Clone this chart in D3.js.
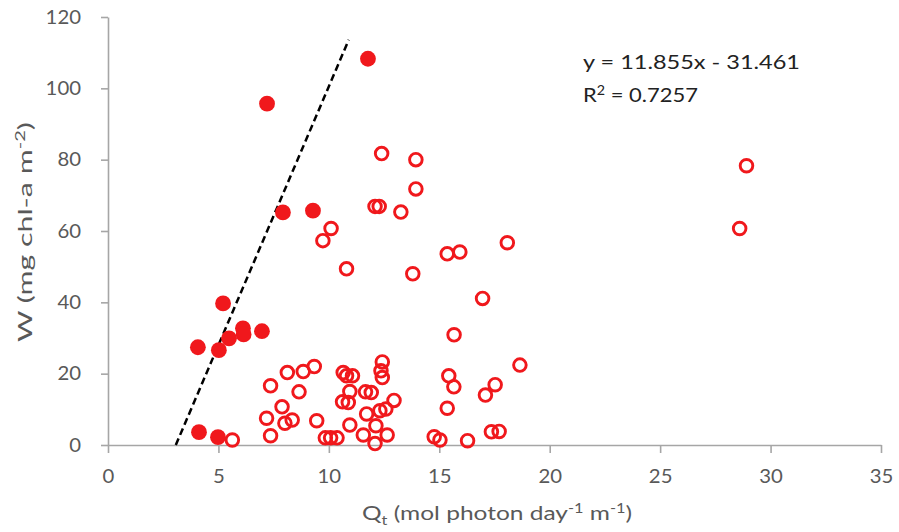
<!DOCTYPE html>
<html>
<head>
<meta charset="utf-8">
<script src="https://cdn.jsdelivr.net/npm/d3@7"></script>
<style>
  body { margin: 0; background: #fff; }
  text { font-family: Lato, "Open Sans", sans-serif; }
</style>
</head>
<body>
<svg id="chart"></svg>
<script>
// filled points (Qt, W)
const filledQt = [11.77, 7.2, 7.92, 9.28, 5.21, 4.07, 5.02, 5.48, 6.11, 6.14, 6.97, 4.12, 4.98];
const filledW  = [108.3, 95.7, 65.2, 65.7, 39.7, 27.4, 26.6, 29.9, 32.7, 31.0, 31.9, 3.6, 2.2];

// open points (Qt, W)
const openQt = [9.73, 10.1, 10.8, 13.8, 15.36, 15.93, 18.08, 16.96, 15.67, 18.65,
                15.43, 15.66, 17.53, 17.09, 15.36, 14.77, 15.03, 16.28, 17.36, 17.71,
                7.36, 8.12, 8.84, 9.34, 8.65, 7.88, 7.18, 8.01, 8.34, 7.36,
                5.63, 9.45, 9.84, 10.08, 10.37, 10.65, 10.8, 11.07, 10.95, 10.62,
                10.88, 10.95, 11.66, 11.92, 11.71, 11.56, 12.13, 12.09, 12.42, 12.36,
                12.42, 12.31, 12.58, 12.95, 12.64, 12.39, 13.94, 13.94, 12.09, 12.28,
                13.26, 28.91, 28.6];
const openW  = [57.3, 60.7, 49.4, 48.0, 53.6, 54.1, 56.7, 41.1, 30.9, 22.4,
                19.4, 16.3, 16.9, 14.0, 10.3, 2.3, 1.4, 1.2, 3.7, 3.8,
                16.6, 20.3, 20.6, 22.0, 14.9, 10.7, 7.5, 6.1, 7.0, 2.6,
                1.4, 6.8, 2.0, 2.0, 2.0, 20.3, 19.4, 19.4, 15.0, 12.1,
                11.9, 5.6, 14.9, 14.7, 8.7, 2.8, 5.4, 0.4, 23.3, 20.8,
                18.9, 9.6, 10.1, 12.5, 2.8, 81.7, 80.0, 71.8, 66.9, 66.9,
                65.3, 78.3, 60.7];

// dashed boundary line
const lineQt = [3.07, 10.9];
const lineW  = [0, 113.6];

const xTicks = [0, 5, 10, 15, 20, 25, 30, 35];
const yTicks = [0, 20, 40, 60, 80, 100, 120];
const eqText = "y = 11.855x - 31.461";

const width = 899, height = 532;
const margin = {top: 17, left: 108, bottom: 87, right: 18};
const red = "#f0181c";
const grey = "#595959";

const svg = d3.select("#chart").attr("width", width).attr("height", height);

const x = d3.scaleLinear().domain([0, 35]).range([margin.left, width - margin.right]);
const y = d3.scaleLinear().domain([0, 120]).range([height - margin.bottom, margin.top]);

// the source picture is a bit wider than tall, stretch the glyphs to match
const stretch = (sel, w) => sel.attr("textLength", w).attr("lengthAdjust", "spacingAndGlyphs");

const xAxis = g => g
    .attr("transform", `translate(0,${y(0)})`)
    .call(d3.axisBottom(x).tickValues(xTicks).tickSize(8).tickSizeOuter(0).tickPadding(17))
    .call(g => g.selectAll("path, line").attr("stroke", "#a6a6a6").attr("stroke-width", 1.6))
    .call(g => g.selectAll("text").attr("fill", grey).attr("font-size", 19)
        .attr("textLength", d => String(d).length * 11.8).attr("lengthAdjust", "spacingAndGlyphs"));

const yAxis = g => g
    .attr("transform", `translate(${x(0)},0)`)
    .call(d3.axisLeft(y).tickValues(yTicks).tickSize(7).tickSizeOuter(0).tickPadding(20))
    .call(g => g.selectAll("path, line").attr("stroke", "#a6a6a6").attr("stroke-width", 1.6))
    .call(g => g.selectAll("text").attr("fill", grey).attr("font-size", 19)
        .attr("textLength", d => String(d).length * 11.8).attr("lengthAdjust", "spacingAndGlyphs"));

svg.append("g").call(xAxis);
svg.append("g").call(yAxis);

// dashed line
svg.append("path")
    .datum(d3.zip(lineQt, lineW))
    .attr("d", d3.line().x(d => x(d[0])).y(d => y(d[1])))
    .attr("stroke", "#000")
    .attr("stroke-width", 2.5)
    .attr("stroke-dasharray", "7,4")
    .attr("fill", "none");

// open circles
svg.append("g")
    .selectAll("circle")
    .data(d3.zip(openQt, openW))
    .join("circle")
    .attr("cx", d => x(d[0]))
    .attr("cy", d => y(d[1]))
    .attr("r", 6.3)
    .attr("fill", "none")
    .attr("stroke", red)
    .attr("stroke-width", 2.9);

// filled circles
svg.append("g")
    .selectAll("circle")
    .data(d3.zip(filledQt, filledW))
    .join("circle")
    .attr("cx", d => x(d[0]))
    .attr("cy", d => y(d[1]))
    .attr("r", 7.9)
    .attr("fill", red);

// equation
svg.append("text")
    .attr("x", 583).attr("y", 69)
    .attr("font-size", 20).attr("fill", "#222")
    .text(eqText)
    .call(stretch, 217);

const r2 = svg.append("text")
    .attr("x", 583).attr("y", 102)
    .attr("font-size", 20).attr("fill", "#222")
    .call(stretch, 115);
r2.append("tspan").text("R");
r2.append("tspan").attr("dy", -7).attr("font-size", 13).text("2");
r2.append("tspan").attr("dy", 7).text(" = 0.7257");

// x label
const xl = svg.append("text")
    .attr("x", 497)
    .attr("y", 520)
    .attr("text-anchor", "middle")
    .attr("font-size", 19.5).attr("fill", grey)
    .call(stretch, 270);
xl.append("tspan").text("Q");
xl.append("tspan").attr("dy", 5).attr("font-size", 13).text("t");
xl.append("tspan").attr("dy", -5).text(" (mol photon day");
xl.append("tspan").attr("dy", -7).attr("font-size", 13).text("-1");
xl.append("tspan").attr("dy", 7).text(" m");
xl.append("tspan").attr("dy", -7).attr("font-size", 13).text("-1");
xl.append("tspan").attr("dy", 7).text(")");

// y label
const yl = svg.append("text")
    .attr("transform", "translate(32,232) rotate(-90)")
    .attr("text-anchor", "middle")
    .attr("font-size", 19.5).attr("fill", grey)
    .call(stretch, 220);
yl.append("tspan").text("W (mg chl-a m");
yl.append("tspan").attr("dy", -7).attr("font-size", 13).text("-2");
yl.append("tspan").attr("dy", 7).text(")");
</script>
</body>
</html>
